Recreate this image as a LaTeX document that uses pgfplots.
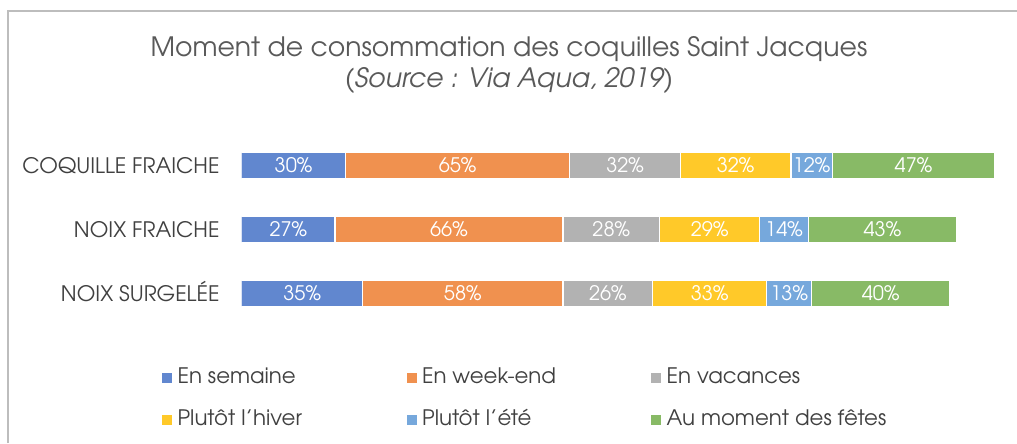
\documentclass[border=0pt]{standalone}
\usepackage{pgfplots}
\pgfplotsset{compat=1.18}
\usepackage{fontspec}
\setmainfont{TeX Gyre Adventor}
\definecolor{cA}{HTML}{6187CF}
\definecolor{cB}{HTML}{F0914F}
\definecolor{cC}{HTML}{B2B2B2}
\definecolor{cD}{HTML}{FFC929}
\definecolor{cE}{HTML}{76A8DC}
\definecolor{cF}{HTML}{88BA66}
\definecolor{txt}{HTML}{404040}
\definecolor{ttl}{HTML}{595959}
\definecolor{frame}{HTML}{BDBDBD}
\begin{document}
\begin{tikzpicture}
\useasboundingbox (0,0) rectangle (762.75pt,332.25pt);
\fill[white] (0,0) rectangle (762.75pt,332.25pt);
\draw[frame, line width=1.5pt] (6pt,0pt) -- (6pt,324pt) -- (770pt,324pt);
\node[anchor=base, font=\fontsize{20}{24}\selectfont, text=ttl, inner sep=0pt] at (381.75pt,289.5pt) {Moment de consommation des coquilles Saint Jacques};
\node[anchor=base, font=\fontsize{20}{24}\selectfont\itshape, text=ttl, inner sep=0pt] at (381.75pt,266.25pt) {(Source : Via Aqua, 2019)};
\begin{axis}[
  at={(181.3pt,232.1pt)}, anchor=north west,
  scale only axis, width=569.9pt, height=144pt,
  xbar stacked, bar width=19pt,
  xmin=0, xmax=220, ymin=-0.5, ymax=2.5,
  axis line style={draw=none}, major tick length=0pt,
  xtick=\empty, ytick={0,1,2},
  yticklabels={NOIX SURGEL\'EE, NOIX FRAICHE, COQUILLE FRAICHE},
  yticklabel style={anchor=base east, inner sep=0pt, xshift=-16.5pt, yshift=-5.9pt, font=\fontsize{16}{18}\selectfont, text=txt},
  /pgf/number format/assume math mode=true,
  point meta=rawx,
  nodes near coords={\pgfmathprintnumber{\pgfplotspointmeta}\%},
  every node near coord/.append style={anchor=base, yshift=-5.4pt, inner sep=0pt, text=white, font=\fontsize{15}{17}\selectfont},
  every axis plot/.append style={draw=white, line width=0.9pt},
  legend columns=3,
  legend style={at={(axis description cs:-0.1049,-0.383)}, anchor=west, draw=none, fill=none, inner sep=0pt,
    nodes={inner sep=0pt, text height=12pt, text depth=3.5pt, text=txt, font=\fontsize{16}{18}\selectfont},
    row sep=16pt, /tikz/every odd column/.append style={column sep=4pt}},
  legend cell align=left,
  legend image code/.code={\fill[#1,draw=none] (0pt,-3.75pt) rectangle (7.5pt,3.75pt);},
]
\addplot[fill=cA] coordinates {(35,0) (27,1) (30,2)};
\addplot[fill=cB] coordinates {(58,0) (66,1) (65,2)};
\addplot[fill=cC] coordinates {(26,0) (28,1) (32,2)};
\addplot[fill=cD] coordinates {(33,0) (29,1) (32,2)};
\addplot[fill=cE] coordinates {(13,0) (14,1) (12,2)};
\addplot[fill=cF] coordinates {(40,0) (43,1) (47,2)};
\addlegendentry{\makebox[171.9pt][l]{En semaine}}
\addlegendentry{\makebox[171.9pt][l]{En week-end}}
\addlegendentry{En vacances}
\addlegendentry{\makebox[171.9pt][l]{Plutôt l'hiver}}
\addlegendentry{\makebox[171.9pt][l]{Plutôt l'été}}
\addlegendentry{Au moment des fêtes}
\end{axis}
\end{tikzpicture}
\end{document}
